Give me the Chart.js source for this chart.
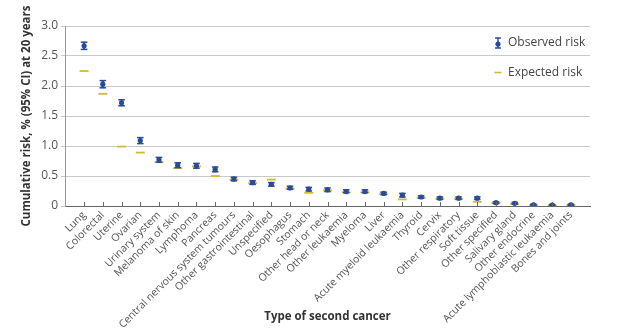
<!DOCTYPE html>
<html>
<head>
<meta charset="utf-8">
<script src="https://cdn.jsdelivr.net/npm/chart.js@4.4.1/dist/chart.umd.min.js"></script>
<style>
  html, body { margin: 0; padding: 0; background: #fff; }
  #wrap { width: 639px; height: 330px; }
</style>
</head>
<body>
<div id="wrap"><canvas id="riskChart" width="639" height="330"></canvas></div>
<script>
const cancers = [
  'Lung', 'Colorectal', 'Uterine', 'Ovarian', 'Urinary system', 'Melanoma of skin',
  'Lymphoma', 'Pancreas', 'Central nervous system tumours', 'Other gastrointestinal',
  'Unspecified', 'Oesophagus', 'Stomach', 'Other head or neck', 'Other leukaemia',
  'Myeloma', 'Liver', 'Acute myeloid leukaemia', 'Thyroid', 'Cervix',
  'Other respiratory', 'Soft tissue', 'Other specified', 'Salivary gland',
  'Other endocrine', 'Acute lymphoblastic leukaemia', 'Bones and joints'
];

// observed cumulative risk with 95% CI
const observed = [2.67, 2.03, 1.72, 1.09, 0.77, 0.68, 0.67, 0.61, 0.45, 0.39, 0.36, 0.30, 0.28, 0.27,
  0.24, 0.24, 0.21, 0.18, 0.15, 0.13, 0.13, 0.13, 0.055, 0.045, 0.02, 0.015, 0.02];
const ciLow = [2.61, 1.97, 1.67, 1.04, 0.73, 0.64, 0.63, 0.57, 0.42, 0.36, 0.33, 0.28, 0.25, 0.24,
  0.22, 0.22, 0.19, 0.15, 0.13, 0.11, 0.11, 0.11, 0.04, 0.03, 0.01, 0.005, 0.01];
const ciHigh = [2.73, 2.09, 1.77, 1.14, 0.81, 0.72, 0.71, 0.65, 0.48, 0.42, 0.39, 0.33, 0.31, 0.30,
  0.27, 0.27, 0.23, 0.21, 0.17, 0.15, 0.15, 0.15, 0.07, 0.06, 0.03, 0.025, 0.03];

const expected = [2.25, 1.87, 0.99, 0.89, 0.73, 0.63, 0.66, 0.50, 0.44, 0.38, 0.44, 0.29, 0.22, 0.26,
  0.23, 0.23, 0.20, 0.11, 0.14, 0.12, 0.12, 0.07, 0.05, 0.035, 0.015, 0.01, 0.015];

const yTicks = [0, 0.5, 1.0, 1.5, 2.0, 2.5, 3.0];

const BLUE = '#2b4a98';
const GOLD = '#d2bc2c';
const FONT = '"Open Sans", "Noto Sans", sans-serif';

const pts = arr => arr.map((v, i) => ({ x: i, y: v }));

// tick marks pointing up into the plot from the x axis
const innerTicks = {
  id: 'innerTicks',
  afterDatasetsDraw(chart) {
    const { ctx, scales: { x }, chartArea } = chart;
    ctx.save();
    ctx.strokeStyle = '#666';
    ctx.lineWidth = 1;
    x.ticks.forEach((t, i) => {
      const px = Math.round(x.getPixelForTick(i)) + 0.5;
      ctx.beginPath();
      ctx.moveTo(px, chartArea.bottom);
      ctx.lineTo(px, chartArea.bottom - 4);
      ctx.stroke();
    });
    ctx.restore();
  }
};

// legend box in the top right corner of the plot
const cornerLegend = {
  id: 'cornerLegend',
  afterDraw(chart) {
    const { ctx, chartArea } = chart;
    const ix = chartArea.right - 92;
    const tx = chartArea.right - 82;
    const y1 = chartArea.top + 17;
    const y2 = chartArea.top + 46.5;
    ctx.save();
    ctx.strokeStyle = BLUE;
    ctx.fillStyle = BLUE;
    ctx.lineWidth = 1.5;
    ctx.beginPath();
    ctx.moveTo(ix, y1 - 5); ctx.lineTo(ix, y1 + 5);
    ctx.moveTo(ix - 3, y1 - 5); ctx.lineTo(ix + 3, y1 - 5);
    ctx.moveTo(ix - 3, y1 + 5); ctx.lineTo(ix + 3, y1 + 5);
    ctx.stroke();
    ctx.beginPath();
    ctx.arc(ix, y1 + 1, 2.6, 0, Math.PI * 2);
    ctx.fill();
    ctx.strokeStyle = GOLD;
    ctx.lineWidth = 1.6;
    ctx.beginPath();
    ctx.moveTo(ix - 3.5, y2); ctx.lineTo(ix + 3.5, y2);
    ctx.stroke();
    ctx.fillStyle = '#444';
    ctx.font = '12px ' + FONT;
    ctx.textBaseline = 'middle';
    ctx.fillText('Observed risk', tx, y1);
    ctx.fillText('Expected risk', tx, y2);
    ctx.restore();
  }
};

new Chart(document.getElementById('riskChart'), {
  type: 'scatter',
  data: {
    datasets: [
      {
        label: 'Observed risk',
        data: pts(observed),
        pointStyle: 'circle',
        pointRadius: 2.6,
        backgroundColor: BLUE,
        borderColor: BLUE,
        borderWidth: 0
      },
      {
        label: 'CI upper',
        data: pts(ciHigh),
        pointStyle: 'line',
        pointRadius: 3.3,
        borderColor: BLUE,
        borderWidth: 1.5
      },
      {
        label: 'CI lower',
        data: pts(ciLow),
        pointStyle: 'line',
        pointRadius: 3.3,
        borderColor: BLUE,
        borderWidth: 1.5
      },
      {
        type: 'bar',
        label: 'CI',
        data: ciLow.map((lo, i) => ({ x: i, y: [lo, ciHigh[i]] })),
        backgroundColor: BLUE,
        borderWidth: 0,
        barThickness: 1.4
      },
      {
        label: 'Expected risk',
        data: pts(expected),
        pointStyle: 'line',
        pointRadius: 4.5,
        borderColor: GOLD,
        borderWidth: 1.8
      }
    ]
  },
  options: {
    responsive: false,
    animation: false,
    events: [],
    layout: { padding: { top: 26, right: 49, left: 0, bottom: 0 } },
    plugins: {
      legend: { display: false },
      tooltip: { enabled: false }
    },
    scales: {
      x: {
        type: 'linear',
        offset: false,
        min: -1.02,
        max: 27.02,
        afterBuildTicks: s => { s.ticks = cancers.map((_, i) => ({ value: i })); },
        afterFit: s => { s.height = 124; s.paddingLeft = 0; s.paddingRight = 0; },
        grid: { display: false, drawTicks: false, offset: false },
        border: { display: true, color: '#666', width: 1 },
        ticks: {
          autoSkip: false,
          minRotation: 45,
          maxRotation: 45,
          padding: 3,
          color: '#555',
          font: { family: FONT, size: 10.5 },
          callback: v => cancers[v]
        },
        title: {
          display: true,
          text: 'Type of second cancer',
          color: '#333',
          padding: { top: 0, bottom: 6 },
          font: { family: FONT, size: 11.5, weight: 'bold' }
        }
      },
      y: {
        min: 0,
        max: 3,
        afterBuildTicks: s => { s.ticks = yTicks.map(v => ({ value: v })); },
        afterFit: s => { s.width = 65; s.paddingTop = 0; s.paddingBottom = 0; },
        grid: { color: '#c9c9c9', lineWidth: 1, tickLength: 4 },
        border: { display: true, color: '#999', width: 1 },
        ticks: {
          padding: 3,
          color: '#555',
          font: { family: FONT, size: 12 },
          callback: v => (v === 0 ? '0' : v.toFixed(1))
        },
        title: {
          display: true,
          text: 'Cumulative risk, % (95% CI) at 20 years',
          color: '#333',
          padding: { top: 20, bottom: 0 },
          font: { family: FONT, size: 11.5, weight: 'bold' }
        }
      }
    }
  },
  plugins: [innerTicks, cornerLegend]
});
</script>
</body>
</html>
